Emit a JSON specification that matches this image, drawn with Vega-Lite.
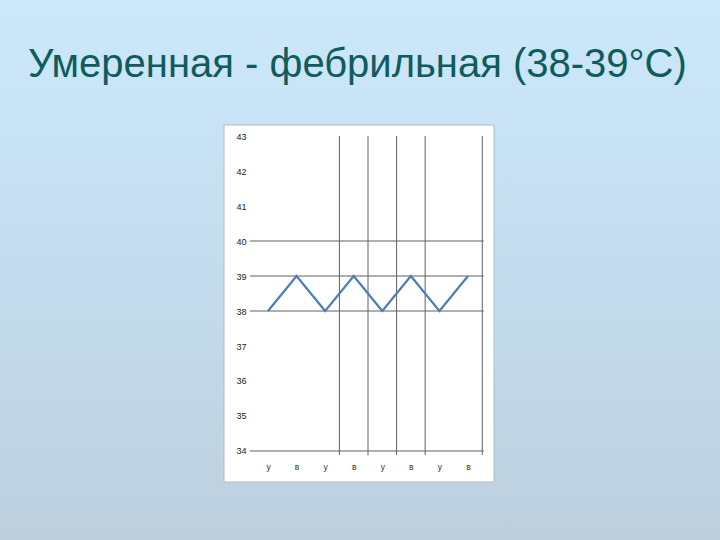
{
  "$schema": "https://vega.github.io/schema/vega-lite/v6.json",
  "width": 720,
  "height": 540,
  "autosize": "none",
  "padding": 0,
  "title": {
    "text": "Умеренная - фебрильная (38-39°С)",
    "anchor": "start",
    "frame": "group",
    "offset": 0,
    "baseline": "alphabetic",
    "dx": 28,
    "dy": 117,
    "font": "Liberation Sans",
    "fontSize": 40,
    "fontWeight": "normal",
    "color": "#105b5c"
  },
  "config": {
    "view": {
      "stroke": null,
      "fill": {
        "gradient": "linear",
        "x1": 0, "y1": 0, "x2": 0, "y2": 1,
        "stops": [
          {"offset": 0, "color": "#cbe8fa"},
          {"offset": 0.5, "color": "#c4ddee"},
          {"offset": 1, "color": "#bdcfdd"}
        ]
      }
    }
  },
  "datasets": {
    "temps": [
      {"i": 0, "period": "у", "temp": 38},
      {"i": 1, "period": "в", "temp": 39},
      {"i": 2, "period": "у", "temp": 38},
      {"i": 3, "period": "в", "temp": 39},
      {"i": 4, "period": "у", "temp": 38},
      {"i": 5, "period": "в", "temp": 39},
      {"i": 6, "period": "у", "temp": 38},
      {"i": 7, "period": "в", "temp": 39}
    ],
    "hgrid": [{"t": 34}, {"t": 38}, {"t": 39}, {"t": 40}],
    "vgrid": [{"b": 2.5}, {"b": 3.5}, {"b": 4.5}, {"b": 5.5}, {"b": 7.5}]
  },
  "layer": [
    {
      "data": {"values": [{"box": "chart"}]},
      "mark": {"type": "rect", "fill": "white", "stroke": "#aebcc8", "strokeWidth": 1},
      "encoding": {
        "x": {
          "datum": -1.54,
          "type": "quantitative",
          "scale": {"domain": [-9.38, 15.82], "nice": false, "zero": false},
          "axis": {
            "orient": "bottom",
            "offset": -85,
            "zindex": 2,
            "values": [0, 1, 2, 3, 4, 5, 6, 7],
            "labelExpr": "datum.value % 2 == 0 ? 'у' : 'в'",
            "domain": false,
            "ticks": false,
            "grid": false,
            "title": null,
            "labelFont": "Liberation Sans",
            "labelFontSize": 8.5,
            "labelColor": "#333333",
            "labelPadding": 7,
            "labelBaseline": "top",
            "labelFlush": false,
            "labelOverlap": false
          }
        },
        "x2": {"datum": 7.91},
        "y": {
          "datum": 43.314,
          "type": "quantitative",
          "scale": {"domain": [31.457, 46.886], "nice": false, "zero": false},
          "axis": {
            "orient": "left",
            "offset": -251,
            "zindex": 2,
            "values": [34, 35, 36, 37, 38, 39, 40, 41, 42, 43],
            "domain": false,
            "ticks": false,
            "grid": false,
            "title": null,
            "labelFont": "Liberation Sans",
            "labelFontSize": 9,
            "labelColor": "#222222",
            "labelPadding": 5,
            "labelFlush": false,
            "labelOverlap": false
          }
        },
        "y2": {"datum": 33.114}
      }
    },
    {
      "data": {"name": "hgrid"},
      "mark": {"type": "rule", "color": "#606060", "strokeWidth": 1},
      "encoding": {
        "y": {"field": "t", "type": "quantitative"},
        "x": {"datum": -0.63},
        "x2": {"datum": 7.55}
      }
    },
    {
      "data": {"name": "vgrid"},
      "mark": {"type": "rule", "color": "#606060", "strokeWidth": 1},
      "encoding": {
        "x": {"field": "b", "type": "quantitative"},
        "y": {"datum": 43},
        "y2": {"datum": 33.886}
      }
    },
    {
      "data": {"name": "temps"},
      "mark": {"type": "line", "color": "#4a7ebb", "strokeWidth": 2.2},
      "encoding": {
        "x": {"field": "i", "type": "quantitative"},
        "y": {"field": "temp", "type": "quantitative"}
      }
    }
  ]
}
